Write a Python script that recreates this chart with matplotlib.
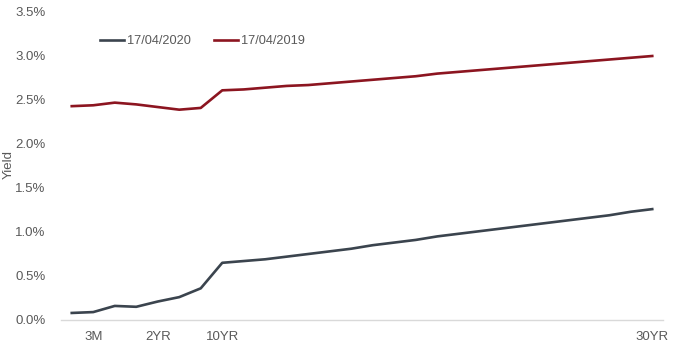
import matplotlib
matplotlib.use("Agg")
import matplotlib.pyplot as plt
from matplotlib.ticker import FuncFormatter

plt.rcParams['font.family'] = ['Liberation Sans', 'DejaVu Sans']

# maturities along the curve, only a few get a visible label
maturities = ["1M", "3M", "6M", "1YR", "2YR", "5YR", "7YR", "10YR"] + \
    [f"{y}YR" for y in range(11, 31)]
shown_labels = ["3M", "2YR", "10YR", "30YR"]

# yields in percent
yield_2020 = [0.08, 0.09, 0.16, 0.15, 0.21, 0.26, 0.36, 0.65,
              0.67, 0.69, 0.72, 0.75, 0.78, 0.81, 0.85, 0.88, 0.91, 0.95,
              0.98, 1.01, 1.04, 1.07, 1.10, 1.13, 1.16, 1.19, 1.23, 1.26]
yield_2019 = [2.43, 2.44, 2.47, 2.45, 2.42, 2.39, 2.41, 2.61,
              2.62, 2.64, 2.66, 2.67, 2.69, 2.71, 2.73, 2.75, 2.77, 2.80,
              2.82, 2.84, 2.86, 2.88, 2.90, 2.92, 2.94, 2.96, 2.98, 3.00]

text_col = "#595959"

fig = plt.figure(figsize=(6.8, 3.48), dpi=100)
ax = fig.add_axes([61 / 680, 28 / 348, 602 / 680, 308 / 348])

x = list(range(len(maturities)))
ax.plot(x, yield_2020, color="#3B444E", lw=1.9, label="17/04/2020", solid_joinstyle="round")
ax.plot(x, yield_2019, color="#8C1520", lw=1.9, label="17/04/2019", solid_joinstyle="round")

ax.set_xlim(-0.5, len(maturities) - 0.5)
ax.set_ylim(0, 3.5)
ax.set_yticks([0, 0.5, 1.0, 1.5, 2.0, 2.5, 3.0, 3.5])
ax.yaxis.set_major_formatter(FuncFormatter(lambda v, p: f"{v:.1f}%"))

ticks = [maturities.index(m) for m in shown_labels]
ax.set_xticks(ticks)
ax.set_xticklabels(shown_labels)

for s in ["top", "right", "left"]:
    ax.spines[s].set_visible(False)
ax.spines["bottom"].set_color("#D9D9D9")
ax.spines["bottom"].set_linewidth(1)

ax.tick_params(axis="both", length=0, labelsize=9.5, colors=text_col)
ax.tick_params(axis="y", pad=11)
ax.tick_params(axis="x", pad=8)

ax.set_ylabel("Yield", fontsize=9.5, color=text_col)
ax.yaxis.set_label_coords(-0.076, 0.506)

ax.legend(loc="upper left", bbox_to_anchor=(0.065, 0.925), ncol=2, frameon=False,
          fontsize=9.2, handlelength=1.9, handletextpad=0.2, columnspacing=1.8,
          borderpad=0, borderaxespad=0, labelcolor=text_col)

fig.savefig("out.png", dpi=100)
